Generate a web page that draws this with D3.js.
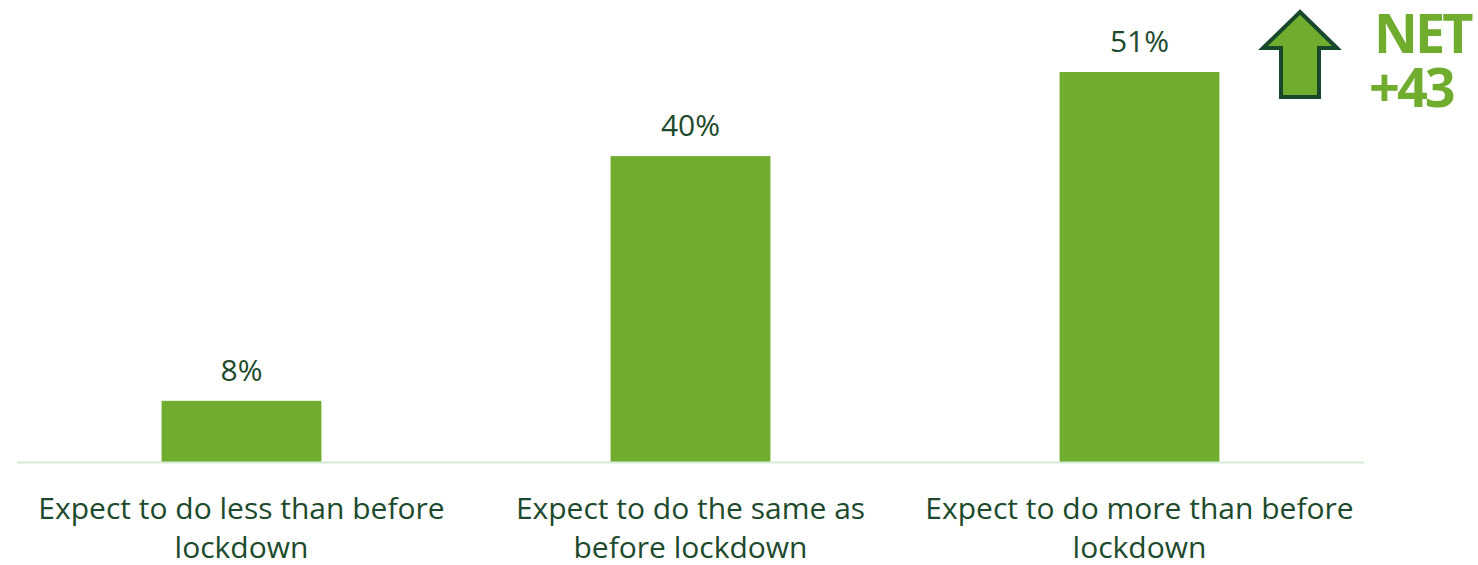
<!DOCTYPE html>
<html>
<head>
<meta charset="utf-8">
<script src="https://cdn.jsdelivr.net/npm/d3@7"></script>
<style>
  html, body { margin: 0; padding: 0; background: #ffffff; }
  svg { display: block; }
</style>
</head>
<body>
<svg id="chart" width="1478" height="565"></svg>
<script>
// Survey answers and their shares (%)
const categories = [
  ["Expect to do less than before", "lockdown"],
  ["Expect to do the same as", "before lockdown"],
  ["Expect to do more than before", "lockdown"]
];
const values = [8, 40, 51];
const valueLabels = ["8%", "40%", "51%"];
const netLabel = ["NET", "+43"];

(function () {
  const svg = d3.select("#chart");
  const font = "'Open Sans', 'Noto Sans', sans-serif";
  const barColor = "#70ad2f";
  const textColor = "#1d4a2c";

  const plot = { left: 17, right: 1364, top: 72, bottom: 462 };

  const x = d3.scaleBand()
    .domain(d3.range(categories.length))
    .range([plot.left, plot.right])
    .paddingInner(0.644)
    .paddingOuter(0.322);

  const y = d3.scaleLinear()
    .domain([0, 51])
    .range([plot.bottom, plot.top]);

  // Bars
  svg.append("g").selectAll("rect")
    .data(values)
    .join("rect")
    .attr("x", (d, i) => x(i))
    .attr("y", d => y(d))
    .attr("width", x.bandwidth())
    .attr("height", d => y(0) - y(d))
    .attr("fill", barColor);

  // Baseline
  svg.append("line")
    .attr("x1", plot.left).attr("x2", plot.right)
    .attr("y1", plot.bottom + 0.5).attr("y2", plot.bottom + 0.5)
    .attr("stroke", "#d6ecd6").attr("stroke-width", 2);

  // Value labels
  svg.append("g").selectAll("text")
    .data(values)
    .join("text")
    .attr("x", (d, i) => x(i) + x.bandwidth() / 2)
    .attr("y", d => y(d) - 20)
    .attr("text-anchor", "middle")
    .attr("font-family", font)
    .attr("font-size", 30)
    .attr("fill", textColor)
    .text((d, i) => valueLabels[i]);

  // Category labels (two lines each)
  const cat = svg.append("g").selectAll("text")
    .data(categories)
    .join("text")
    .attr("text-anchor", "middle")
    .attr("font-family", font)
    .attr("font-size", 30)
    .attr("fill", textColor);
  cat.selectAll("tspan")
    .data((d, i) => d.map(line => ({ line, i })))
    .join("tspan")
    .attr("x", d => x(d.i) + x.bandwidth() / 2)
    .attr("y", (d, j) => 519 + j * 39)
    .text(d => d.line);

  // Up arrow
  const ax = 1300, tipY = 12, headBase = 48, tailY = 97, headHalf = 37, shaftHalf = 19;
  const arrow = d3.path();
  arrow.moveTo(ax, tipY);
  arrow.lineTo(ax + headHalf, headBase);
  arrow.lineTo(ax + shaftHalf, headBase);
  arrow.lineTo(ax + shaftHalf, tailY);
  arrow.lineTo(ax - shaftHalf, tailY);
  arrow.lineTo(ax - shaftHalf, headBase);
  arrow.lineTo(ax - headHalf, headBase);
  arrow.closePath();
  svg.append("path")
    .attr("d", arrow.toString())
    .attr("fill", barColor)
    .attr("stroke", "#17482a")
    .attr("stroke-width", 4)
    .attr("stroke-linejoin", "miter");

  // NET figure
  svg.append("g").selectAll("text")
    .data(netLabel)
    .join("text")
    .attr("x", (d, i) => i === 0 ? 1374 : 1369)
    .attr("y", (d, i) => i === 0 ? 53 : 107)
    .attr("font-family", font)
    .attr("font-weight", 700)
    .attr("font-size", 54)
    .attr("letter-spacing", -3)
    .attr("fill", barColor)
    .text(d => d);
})();
</script>
</body>
</html>
